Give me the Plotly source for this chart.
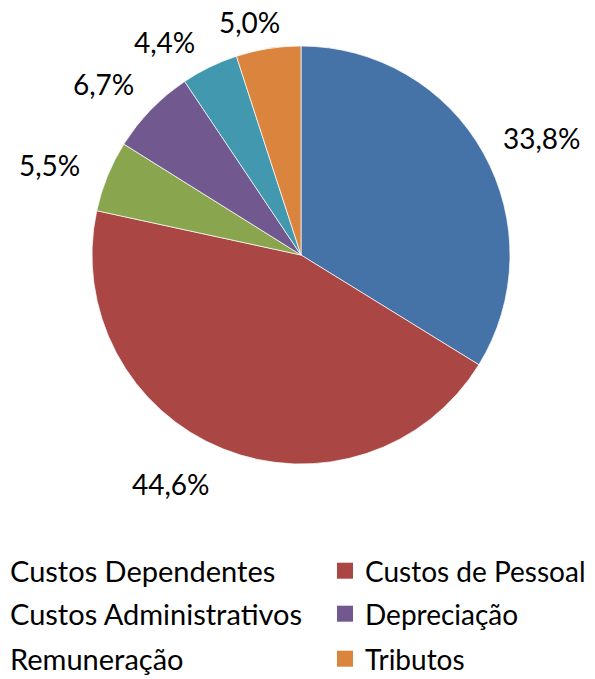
import math
import plotly.graph_objects as go

categories = ["Custos Dependentes", "Custos de Pessoal", "Custos Administrativos",
              "Depreciação", "Remuneração", "Tributos"]
values = [33.8, 44.6, 5.5, 6.7, 4.4, 5.0]
colors = ["#4572A7", "#AA4643", "#89A54E", "#71588F", "#4198AF", "#DB843D"]

# label placement (best-fit style): radius in pie radii, angular nudge in degrees
label_r = [1.28, 1.26, 1.28, 1.25, 1.21, 1.14]
label_dangle = [3.2, 7.7, -2.4, -3.1, -6.7, -3.6]

# page body has an 8px margin: figure drawn 8px in from the window's top-left
OFF = 8
W, H = 595 - OFF, 679 - OFF
CX, CY, R = 301 - OFF, 255 - OFF, 209
FONT = "Lato, Carlito, Calibri, sans-serif"

fig = go.Figure()
fig.add_trace(go.Pie(
    labels=categories, values=values, sort=False, direction="clockwise", rotation=0,
    marker=dict(colors=colors, line=dict(color="rgba(255,255,255,0.7)", width=1)),
    textinfo="none", hoverinfo="label+percent", showlegend=False,
    domain=dict(x=[(CX - R) / W, (CX + R) / W], y=[1 - (CY + R) / H, 1 - (CY - R) / H]),
))

# labels outside slices, positioned from slice mid-angles
total = sum(values)
cum = 0.0
annotations = []
for v, fr, da in zip(values, label_r, label_dangle):
    mid = (cum + v / 2) / total * 2 * math.pi + math.radians(da)
    cum += v
    rr = R * fr
    px = CX + rr * math.sin(mid)
    py = CY - rr * math.cos(mid)
    annotations.append(dict(
        x=px / W, y=1 - py / H, xref="paper", yref="paper", showarrow=False,
        text=f"{v:.1f}".replace(".", ",") + "%", font=dict(size=28, color="black", family=FONT),
        xanchor="center", yanchor="middle"))

# legend: one small legend per entry, laid out as 3 rows x 2 columns
col_text_x = [10 - OFF, 365 - OFF]
col_font = [29, 28]
row_y = [571 - OFF, 614 - OFF, 659 - OFF]
layout_legends = {}
for i, (cat, col) in enumerate(zip(categories, colors)):
    name = "legend" if i == 0 else f"legend{i + 1}"
    fig.add_trace(go.Scatter(
        x=[None], y=[None], mode="markers", name=cat,
        marker=dict(symbol="square", size=16, color=col),
        legend=name, showlegend=True, hoverinfo="skip"))
    layout_legends[name] = dict(
        x=(col_text_x[i % 2] - 40) / W, y=1 - row_y[i // 2] / H,
        xanchor="left", yanchor="middle", orientation="v",
        font=dict(size=col_font[i % 2], color="black", family=FONT),
        bgcolor="rgba(0,0,0,0)", borderwidth=0,
        itemclick=False, itemdoubleclick=False)

fig.update_layout(
    width=W, height=H, margin=dict(l=0, r=0, t=0, b=0, autoexpand=False),
    paper_bgcolor="white", plot_bgcolor="white",
    xaxis=dict(visible=False), yaxis=dict(visible=False),
    annotations=annotations, **layout_legends,
)
fig.write_html("out.html")
